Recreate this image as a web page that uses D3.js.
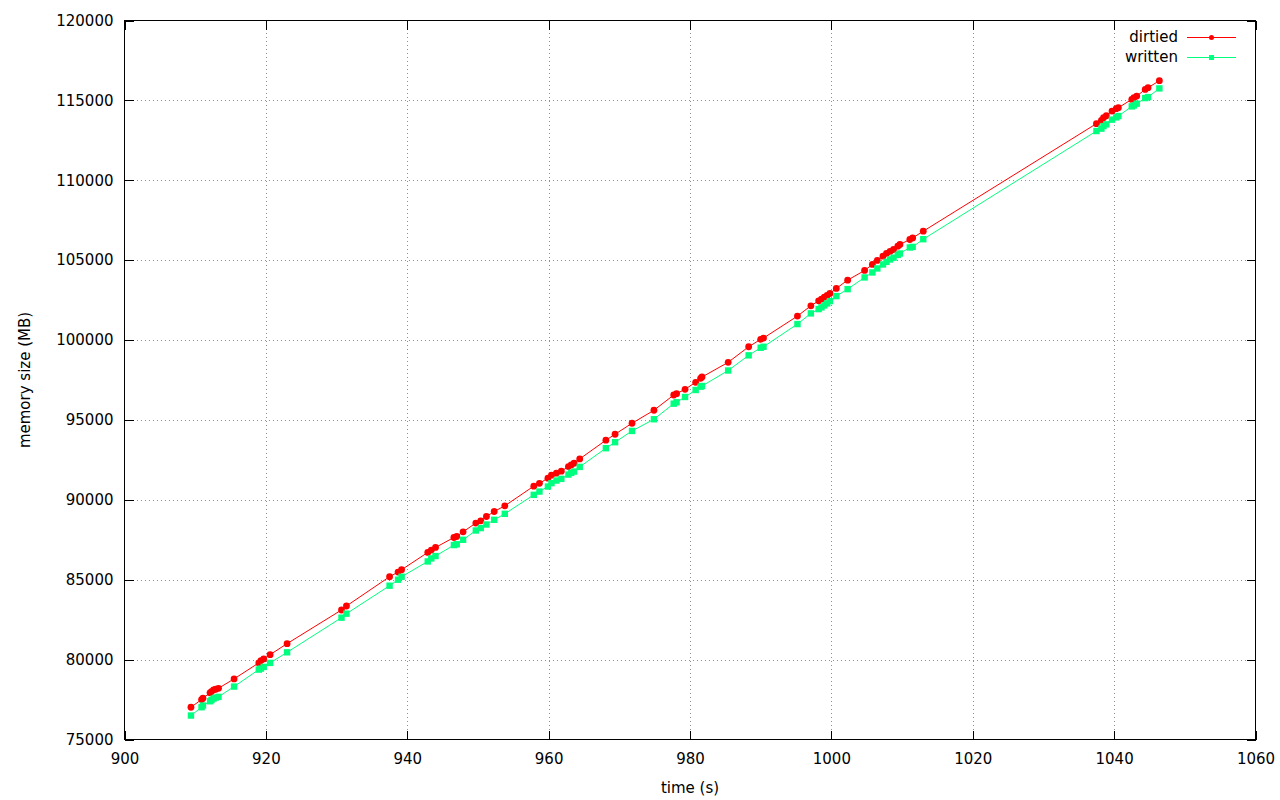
<!DOCTYPE html>
<html>
<head>
<meta charset="utf-8">
<script src="https://cdn.jsdelivr.net/npm/d3@7"></script>
<style>
  html, body { margin: 0; padding: 0; background: #fff; }
  svg { display: block; }
  text { font-family: "DejaVu Sans", sans-serif; fill: #000; }
</style>
</head>
<body>
<svg id="chart" width="1280" height="800"></svg>
<script>
// ---- data ----
const timeS = [909.4, 910.9, 911.1, 912.1, 912.3, 912.6, 912.9, 913.3, 915.5, 919.0,
  919.3, 919.7, 920.6, 923.0, 930.7, 931.4, 937.5, 938.7, 939.2, 942.9,
  943.4, 944.0, 946.6, 947.0, 947.9, 949.7, 950.4, 951.2, 952.3, 953.8,
  957.9, 958.7, 959.9, 960.4, 961.1, 961.8, 962.8, 963.2, 963.6, 964.4,
  968.1, 969.4, 971.8, 974.9, 977.7, 978.1, 979.3, 980.8, 981.5, 981.7,
  985.4, 988.3, 990.0, 990.4, 995.2, 997.1, 998.2, 998.6, 999.0, 999.4,
  999.8, 1000.7, 1002.3, 1004.7, 1005.8, 1006.5, 1007.3, 1007.8, 1008.3, 1008.8,
  1009.4, 1009.7, 1011.1, 1011.5, 1013.0, 1037.5, 1038.2, 1038.5, 1038.9, 1039.7,
  1040.3, 1040.6, 1042.5, 1042.8, 1043.2, 1044.4, 1044.8, 1046.4];

const dirtiedMB = [77019, 77500, 77581, 77919, 78000, 78106, 78144, 78206, 78794, 79794,
  79937, 80044, 80312, 81000, 83106, 83356, 85187, 85481, 85625, 86706,
  86856, 87019, 87644, 87706, 88000, 88544, 88687, 88956, 89269, 89625,
  90856, 91031, 91356, 91544, 91669, 91794, 92081, 92187, 92294, 92562,
  93731, 94106, 94794, 95606, 96562, 96644, 96919, 97356, 97606, 97687,
  98606, 99581, 100044, 100125, 101500, 102144, 102456, 102562, 102687, 102794,
  102919, 103231, 103750, 104356, 104731, 104981, 105250, 105419, 105544, 105669,
  105875, 105981, 106294, 106394, 106812, 113544, 113750, 113919, 114044, 114331,
  114481, 114544, 115062, 115169, 115269, 115687, 115794, 116231];

const writtenMB = [76500, 77019, 77125, 77394, 77469, 77562, 77625, 77669, 78312, 79375,
  79437, 79544, 79794, 80456, 82625, 82875, 84625, 85000, 85187, 86144,
  86331, 86481, 87169, 87219, 87500, 88081, 88231, 88456, 88750, 89125,
  90312, 90519, 90831, 91044, 91206, 91312, 91581, 91687, 91769, 92062,
  93231, 93606, 94312, 95044, 96019, 96106, 96437, 96875, 97081, 97125,
  98094, 99044, 99519, 99581, 101000, 101669, 101937, 102044, 102169, 102294,
  102437, 102750, 103187, 103919, 104231, 104481, 104731, 104894, 105044, 105156,
  105331, 105419, 105794, 105831, 106312, 113081, 113231, 113394, 113500, 113794,
  113937, 114019, 114625, 114687, 114794, 115144, 115206, 115750];

const xTicks = [900, 920, 940, 960, 980, 1000, 1020, 1040, 1060];
const yTicks = [75000, 80000, 85000, 90000, 95000, 100000, 105000, 110000, 115000, 120000];
const seriesNames = ["dirtied", "written"];
const seriesColors = ["#ff0000", "#00ff7f"];
const xTitle = "time (s)";
const yTitle = "memory size (MB)";

// ---- layout ----
const L = 124.5, R = 1255.5, T = 20.5, B = 739.5;
const svg = d3.select("#chart");
const x = d3.scaleLinear().domain([900, 1060]).range([L, R]);
const y = d3.scaleLinear().domain([75000, 120000]).range([B, T]);
const FS = 15;
const tickLen = 9;

// grid
const grid = svg.append("g").attr("stroke", "#909090").attr("stroke-width", 1)
  .attr("stroke-dasharray", "1,3").attr("shape-rendering", "crispEdges");
xTicks.slice(1, -1).forEach(v => {
  grid.append("line").attr("x1", Math.round(x(v)) + 0.5).attr("x2", Math.round(x(v)) + 0.5)
    .attr("y1", T).attr("y2", B);
});
yTicks.slice(1, -1).forEach(v => {
  grid.append("line").attr("y1", Math.round(y(v)) + 0.5).attr("y2", Math.round(y(v)) + 0.5)
    .attr("x1", L).attr("x2", R);
});

// axes with inward ticks (mirrored)
function styleAxis(g) {
  g.select(".domain").remove();
  g.selectAll("line").attr("stroke", "#000").attr("shape-rendering", "crispEdges");
  g.selectAll("text").attr("font-size", FS).attr("font-family", "DejaVu Sans, sans-serif").attr("fill", "#000");
}
svg.append("g").attr("transform", `translate(0,${B})`)
  .call(d3.axisBottom(x).tickValues(xTicks).tickSizeInner(-tickLen).tickSizeOuter(0).tickPadding(14).tickFormat(d3.format("d")))
  .call(styleAxis);
svg.append("g").attr("transform", `translate(0,${T})`)
  .call(d3.axisTop(x).tickValues(xTicks).tickSizeInner(-tickLen).tickSizeOuter(0).tickFormat(""))
  .call(styleAxis);
svg.append("g").attr("transform", `translate(${L},0)`)
  .call(d3.axisLeft(y).tickValues(yTicks).tickSizeInner(-tickLen).tickSizeOuter(0).tickPadding(11).tickFormat(d3.format("d")))
  .call(styleAxis);
svg.append("g").attr("transform", `translate(${R},0)`)
  .call(d3.axisRight(y).tickValues(yTicks).tickSizeInner(-tickLen).tickSizeOuter(0).tickFormat(""))
  .call(styleAxis);

// frame
svg.append("rect").attr("x", L).attr("y", T).attr("width", R - L).attr("height", B - T)
  .attr("fill", "none").attr("stroke", "#000").attr("stroke-width", 1).attr("shape-rendering", "crispEdges");

// axis titles
svg.append("text").attr("x", (L + R) / 2).attr("y", 793).attr("text-anchor", "middle")
  .attr("font-size", FS).text(xTitle);
svg.append("text").attr("transform", `translate(30,${(T + B) / 2}) rotate(-90)`)
  .attr("text-anchor", "middle").attr("font-size", FS).text(yTitle);

// series
const seriesData = [dirtiedMB, writtenMB];
const line = d3.line().x(d => x(d[0])).y(d => y(d[1]));
seriesData.forEach((vals, i) => {
  const pts = timeS.map((t, k) => [t, vals[k]]);
  const g = svg.append("g");
  g.append("path").datum(pts).attr("d", line).attr("fill", "none")
    .attr("stroke", seriesColors[i]).attr("stroke-width", 1);
  if (i === 0) {
    g.selectAll("circle").data(pts).enter().append("circle")
      .attr("cx", d => x(d[0])).attr("cy", d => y(d[1])).attr("r", 3.4)
      .attr("fill", seriesColors[i]);
  } else {
    g.selectAll("rect").data(pts).enter().append("rect")
      .attr("x", d => x(d[0]) - 3.2).attr("y", d => y(d[1]) - 3.2)
      .attr("width", 6.4).attr("height", 6.4).attr("fill", seriesColors[i]);
  }
});

// legend
const legend = svg.append("g");
seriesNames.forEach((name, i) => {
  const ly = 37 + i * 20;
  legend.append("text").attr("x", 1178).attr("y", ly + 5).attr("text-anchor", "end")
    .attr("font-size", FS).text(name);
  legend.append("line").attr("x1", 1187).attr("x2", 1236).attr("y1", ly + 0.5).attr("y2", ly + 0.5)
    .attr("stroke", seriesColors[i]).attr("stroke-width", 1);
  if (i === 0) {
    legend.append("circle").attr("cx", 1211.5).attr("cy", ly + 0.5).attr("r", 2.5).attr("fill", seriesColors[i]);
  } else {
    legend.append("rect").attr("x", 1209).attr("y", ly - 2).attr("width", 5).attr("height", 5).attr("fill", seriesColors[i]);
  }
});
</script>
</body>
</html>
